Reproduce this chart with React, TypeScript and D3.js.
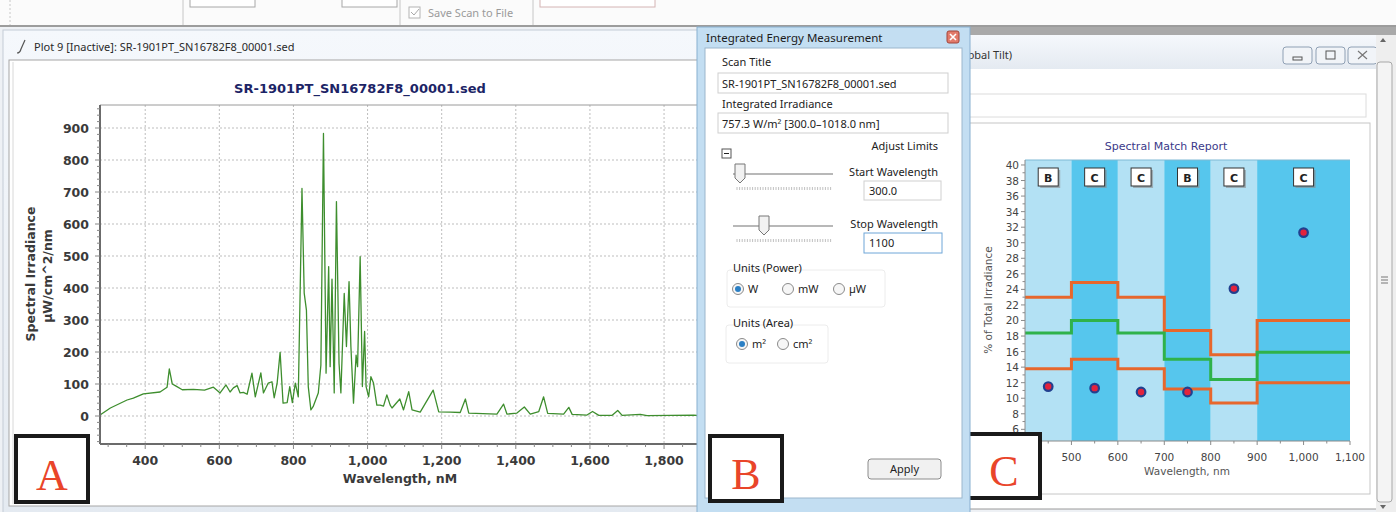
import React from 'react';
import * as d3 from 'd3';

// Panel A: measured spectrum (wavelength nm, µW/cm^2/nm)
const spectrumNm = [
  278, 306, 351, 368, 395, 440, 459, 465, 473, 481, 500, 530, 560, 584, 592, 602, 618, 629, 638, 648,
  656, 665, 675, 688, 697, 712, 719, 732, 742, 748, 756, 764, 772, 783, 790, 797, 805, 813, 823, 829,
  835, 840, 847, 853, 867, 874, 881, 888, 895, 899, 904, 910, 916, 923, 928, 937, 943, 950, 955, 962,
  969, 973, 980, 986, 992, 996, 1003, 1009, 1016, 1025, 1034, 1043, 1052, 1061, 1066, 1087, 1097, 1111, 1120, 1142,
  1177, 1192, 1223, 1250, 1264, 1273, 1349, 1367, 1376, 1403, 1423, 1439, 1462, 1475, 1486, 1529, 1543, 1552, 1592, 1607,
  1624, 1660, 1675, 1687, 1736, 1754, 1880, 1897,
];
const spectrumVal = [
  3, 25, 50, 56, 69, 75, 90, 147, 100, 95, 82, 83, 81, 90, 82, 72, 97, 75, 88, 95,
  72, 74, 68, 134, 60, 135, 72, 103, 107, 57, 103, 199, 40, 42, 92, 42, 103, 60, 711, 384,
  331, 92, 19, 29, 72, 159, 883, 134, 467, 154, 428, 72, 670, 165, 72, 383, 217, 420, 217, 40,
  190, 154, 498, 92, 264, 92, 60, 123, 103, 34, 34, 31, 66, 34, 25, 53, 19, 76, 19, 12,
  81, 13, 12, 11, 53, 9, 6, 37, 6, 9, 28, 6, 14, 60, 8, 6, 27, 5, 3, 14,
  2, 2, 17, 2, 5, 1, 3, 1,
];
const aXTicks = [400, 600, 800, 1000, 1200, 1400, 1600, 1800];
const aYTicks = [0, 100, 200, 300, 400, 500, 600, 700, 800, 900];

// Panel C: spectral match report
const bandEdges = [400, 500, 600, 700, 800, 900, 1100];
const bandClasses = ['B', 'C', 'C', 'B', 'C', 'C'];
const upperLimit = [23, 24.9, 23, 18.7, 15.6, 20];
const idealShare = [18.4, 20, 18.4, 15, 12.4, 15.9];
const lowerLimit = [13.8, 15, 13.8, 11.2, 9.4, 12];
const measuredNm = [450, 550, 650, 750, 850, 1000];
const measuredPct = [11.5, 11.3, 10.8, 10.8, 24.1, 31.3];
const cXTicks = [400, 500, 600, 700, 800, 900, 1000, 1100];
const cYTicks = [6, 8, 10, 12, 14, 16, 18, 20, 22, 24, 26, 28, 30, 32, 34, 36, 38, 40];

const uiFont = '"Noto Sans", "Open Sans", sans-serif';
const chartFont = '"DejaVu Sans", Verdana, sans-serif';
const fmt = d3.format(',');

const SpectrumPlot = () => {
  const left = 100, right = 700, top = 105, bottom = 444;
  const x = d3.scaleLinear().domain([278, 1897]).range([left, right]);
  const y = d3.scaleLinear().domain([0, 900]).range([416, 128]);
  const line = d3.line<number>()
    .x((d, i) => x(spectrumNm[i]))
    .y(d => y(d));
  const minorX = d3.range(300, 1900, 50);
  const minorY = d3.range(-80, 980, 20);

  return (
    <g>
      <defs>
        <clipPath id="clipA">
          <rect x={left} y={top} width={right - left} height={bottom - top} />
        </clipPath>
      </defs>
      <text x={360} y={93} textAnchor="middle" fontFamily={chartFont} fontWeight="bold"
        fontSize={13} fill="#1c2466">SR-1901PT_SN16782F8_00001.sed</text>
      <g clipPath="url(#clipA)">
        {aXTicks.map(t => (
          <line key={t} x1={x(t)} x2={x(t)} y1={top} y2={bottom} stroke="#bdbdbd" strokeDasharray="2,2" />
        ))}
        {aYTicks.map(t => (
          <line key={t} x1={left} x2={right} y1={y(t)} y2={y(t)} stroke="#bdbdbd" strokeDasharray="2,2" />
        ))}
        <path d={line(spectrumVal) ?? ''} fill="none" stroke="#3e8e2e" strokeWidth={1.3} strokeLinejoin="round" />
      </g>
      <line x1={left} x2={right} y1={top} y2={top} stroke="#9a9a9a" />
      <line x1={left} x2={left} y1={top} y2={bottom} stroke="#6b6b6b" strokeWidth={2} />
      <line x1={left} x2={right} y1={bottom} y2={bottom} stroke="#6b6b6b" strokeWidth={2} />
      {minorY.map(t => (
        <line key={t} x1={left - (t % 100 === 0 ? 5 : 3)} x2={left} y1={y(t)} y2={y(t)} stroke="#888" />
      ))}
      {minorX.map(t => (
        <line key={t} x1={x(t)} x2={x(t)} y1={bottom} y2={bottom + (t % 200 === 0 ? 5 : 3)} stroke="#888" />
      ))}
      {aYTicks.map(t => (
        <text key={t} x={89} y={y(t) + 4.5} textAnchor="end" fontFamily={chartFont} fontWeight="bold"
          fontSize={12.5} fill="#3a3a3a">{t}</text>
      ))}
      {aXTicks.map(t => (
        <text key={t} x={x(t)} y={465} textAnchor="middle" fontFamily={chartFont} fontWeight="bold"
          fontSize={12.5} fill="#3a3a3a">{fmt(t)}</text>
      ))}
      <text x={400} y={483} textAnchor="middle" fontFamily={chartFont} fontWeight="bold" fontSize={12.5}
        fill="#3a3a3a">Wavelength, nM</text>
      <text transform="translate(35,274) rotate(-90)" textAnchor="middle" fontFamily={chartFont}
        fontWeight="bold" fontSize={12.5} fill="#3a3a3a">Spectral Irradiance</text>
      <text transform="translate(52,276) rotate(-90)" textAnchor="middle" fontFamily={chartFont}
        fontWeight="bold" fontSize={12.5} fill="#3a3a3a">µW/cm^2/nm</text>
    </g>
  );
};

const Radio = ({ cx, cy, on, label }: { cx: number; cy: number; on?: boolean; label: string }) => (
  <g>
    <circle cx={cx} cy={cy} r={5.5} fill="#f6f6f6" stroke="#8a8a8a" />
    {on && <circle cx={cx} cy={cy} r={3} fill="#2a7fc4" />}
    <text x={cx + 10} y={cy + 4} fontFamily={uiFont} fontSize={11} fill="#222">{label}</text>
  </g>
);

const Slider = ({ y0, thumb }: { y0: number; thumb: number }) => (
  <g>
    <line x1={733} x2={833} y1={y0} y2={y0} stroke="#a0a0a0" strokeWidth={1.5} />
    {d3.range(737, 831, 2.6).map(t => (
      <line key={t} x1={t} x2={t} y1={y0 + 13} y2={y0 + 16} stroke="#b0b0b0" strokeWidth={0.8} />
    ))}
    <path d={`M${thumb - 5},${y0 - 10} h10 v14 l-5,5 l-5,-5 Z`} fill="#f2f2f2" stroke="#777" />
  </g>
);

const EnergyDialog = () => (
  <g fontFamily={uiFont}>
    <rect x={697} y={27} width={273} height={490} fill="#c3def2" stroke="#88afd0" />
    <text x={706} y={42} fontSize={11.5} fill="#1b1b1b">Integrated Energy Measurement</text>
    <rect x={947} y={31} width={12} height={12} rx={2} fill="#e27a6a" stroke="#a2453a" />
    <path d="M950,34 l6,6 M956,34 l-6,6" stroke="#fff" strokeWidth={1.6} />
    <rect x={705} y={48} width={257} height={450} fill="#fff" stroke="#9cb6cc" />

    <text x={722} y={66} fontSize={11} fill="#222">Scan Title</text>
    <rect x={718} y={73} width={230} height={20} fill="#fff" stroke="#cfcfcf" />
    <text x={722} y={88} fontSize={11} fill="#222">SR-1901PT_SN16782F8_00001.sed</text>
    <text x={722} y={108} fontSize={11} fill="#222">Integrated Irradiance</text>
    <rect x={718} y={113} width={230} height={20} fill="#fff" stroke="#cfcfcf" />
    <text x={722} y={128} fontSize={11} fill="#222">757.3 W/m² [300.0–1018.0 nm]</text>

    <text x={938} y={150} textAnchor="end" fontSize={11} fill="#222">Adjust Limits</text>
    <rect x={722} y={149} width={9} height={9} fill="#fff" stroke="#555" />
    <line x1={724} x2={729} y1={153.5} y2={153.5} stroke="#222" />

    <Slider y0={174} thumb={740} />
    <text x={938} y={176} textAnchor="end" fontSize={11} fill="#222">Start Wavelength</text>
    <rect x={864} y={181} width={77} height={19} fill="#fff" stroke="#d0d0d0" />
    <text x={869} y={195} fontSize={11} fill="#222">300.0</text>

    <Slider y0={226} thumb={764} />
    <text x={938} y={228} textAnchor="end" fontSize={11} fill="#222">Stop Wavelength</text>
    <rect x={864} y={233} width={78} height={20} fill="#fff" stroke="#6fa6d8" />
    <text x={869} y={247} fontSize={11} fill="#222">1100</text>

    <rect x={727} y={270} width={158} height={37} rx={3} fill="none" stroke="#ececec" />
    <text x={733} y={272} fontSize={11} fill="#222">Units (Power)</text>
    <Radio cx={738} cy={289} on label="W" />
    <Radio cx={788} cy={289} label="mW" />
    <Radio cx={839} cy={289} label="µW" />

    <rect x={726} y={325} width={102} height={38} rx={3} fill="none" stroke="#ececec" />
    <text x={733} y={327} fontSize={11} fill="#222">Units (Area)</text>
    <Radio cx={742} cy={344} on label="m²" />
    <Radio cx={783} cy={344} label="cm²" />

    <rect x={868} y={459} width={73} height={20} rx={3} fill="#f1f1f1" stroke="#8c8c8c" />
    <text x={904.5} y={473} textAnchor="middle" fontSize={11} fill="#222">Apply</text>
  </g>
);

const MatchReport = () => {
  const left = 1025, right = 1350, top = 160, bottom = 441;
  const x = d3.scaleLinear().domain([400, 1100]).range([left, right]);
  const y = d3.scaleLinear().domain([4.5, 40.64]).range([bottom, top]);
  const stepLine = d3.line<[number, number]>()
    .x(d => x(d[0]))
    .y(d => y(d[1]))
    .curve(d3.curveStepAfter);
  const steps = (vals: number[]) =>
    stepLine(bandEdges.map((e, i) => [e, vals[Math.min(i, vals.length - 1)]] as [number, number])) ?? '';
  const minorY = d3.range(5, 41, 1);
  const minorX = d3.range(450, 1100, 100);

  return (
    <g fontFamily={chartFont}>
      <text x={1166} y={150} textAnchor="middle" fontSize={11} fill="#3b3a8a">Spectral Match Report</text>
      {bandClasses.map((c, i) => (
        <rect key={i} x={x(bandEdges[i])} y={top} width={x(bandEdges[i + 1]) - x(bandEdges[i])}
          height={bottom - top} fill={i % 2 === 0 ? '#b3e1f4' : '#56c6ed'} />
      ))}
      <line x1={left} x2={right} y1={top} y2={top} stroke="#7fb9d4" />
      {bandClasses.map((c, i) => {
        const cx = x((bandEdges[i] + bandEdges[i + 1]) / 2);
        return (
          <g key={i}>
            <rect x={cx - 8} y={170} width={20} height={18} fill="#8a8a8a" opacity={0.6} />
            <rect x={cx - 10} y={168} width={20} height={18} fill="#fff" stroke="#333" />
            <text x={cx} y={182} textAnchor="middle" fontSize={11} fontWeight="bold" fill="#222">{c}</text>
          </g>
        );
      })}
      <path d={steps(upperLimit)} fill="none" stroke="#e7672c" strokeWidth={3} />
      <path d={steps(lowerLimit)} fill="none" stroke="#e7672c" strokeWidth={3} />
      <path d={steps(idealShare)} fill="none" stroke="#2fb24a" strokeWidth={3} />
      {measuredNm.map((n, i) => (
        <circle key={n} cx={x(n)} cy={y(measuredPct[i])} r={4.3} fill="#e2233c" stroke="#22408f" strokeWidth={2.2} />
      ))}
      <line x1={left} x2={left} y1={top} y2={bottom} stroke="#8a8a8a" />
      <line x1={left} x2={right} y1={bottom} y2={bottom} stroke="#8a8a8a" />
      {minorY.map(t => (
        <line key={t} x1={left - (t % 2 === 0 ? 4 : 2.5)} x2={left} y1={y(t)} y2={y(t)} stroke="#8a8a8a" />
      ))}
      {cXTicks.map(t => (
        <line key={t} x1={x(t)} x2={x(t)} y1={bottom} y2={bottom + 4} stroke="#8a8a8a" />
      ))}
      {minorX.map(t => (
        <line key={t} x1={x(t)} x2={x(t)} y1={bottom} y2={bottom + 2.5} stroke="#8a8a8a" />
      ))}
      {cYTicks.map(t => (
        <text key={t} x={1019} y={y(t) + 4} textAnchor="end" fontSize={10.5} fill="#444">{t}</text>
      ))}
      {cXTicks.map(t => (
        <text key={t} x={x(t)} y={461} textAnchor="middle" fontSize={10.5} fill="#444">{fmt(t)}</text>
      ))}
      <text x={1187} y={475} textAnchor="middle" fontSize={10.5} fill="#555">Wavelength, nm</text>
      <text transform="translate(992,300) rotate(-90)" textAnchor="middle" fontSize={10.5} fill="#555">% of Total Irradiance</text>
    </g>
  );
};

const LabelBox = ({ x0, y0, w, h, letter }: { x0: number; y0: number; w: number; h: number; letter: string }) => (
  <g>
    <rect x={x0} y={y0} width={w} height={h} fill="#fff" stroke="#1a1a1a" strokeWidth={4} />
    <text x={x0 + w / 2} y={y0 + h - 12} textAnchor="middle" fontFamily='"Liberation Serif", serif'
      fontSize={44} fill="#e9452a">{letter}</text>
  </g>
);

const WinButton = ({ x0, kind }: { x0: number; kind: string }) => (
  <g>
    <rect x={x0} y={47} width={29} height={17} rx={3} fill="#f1f4f8" stroke="#8fa0b4" />
    {kind === 'min' && <rect x={x0 + 10} y={57} width={9} height={3} fill="none" stroke="#555" />}
    {kind === 'max' && <rect x={x0 + 10} y={51} width={9} height={8} fill="none" stroke="#555" />}
    {kind === 'close' && <path d={`M${x0 + 10},${51} l9,8 M${x0 + 19},${51} l-9,8`} stroke="#777" strokeWidth={1.2} />}
  </g>
);

const App = () => (
  <svg width={1396} height={512} style={{ position: 'absolute', left: 0, top: 0 }}>
    <defs>
      <linearGradient id="titleGrad" x1="0" x2="0" y1="0" y2="1">
        <stop offset="0" stopColor="#f5f8fc" />
        <stop offset="1" stopColor="#e4eaf1" />
      </linearGradient>
    </defs>
    <rect width={1396} height={512} fill="#eef1f5" />

    {/* toolbar strip */}
    <rect x={0} y={0} width={1396} height={26} fill="#fbfbfb" />
    <line x1={10} x2={10} y1={0} y2={25} stroke="#c8c8c8" strokeDasharray="2,2" />
    <line x1={183} x2={183} y1={0} y2={26} stroke="#c6c6c6" />
    <line x1={400} x2={400} y1={0} y2={26} stroke="#c6c6c6" />
    <line x1={533} x2={533} y1={0} y2={26} stroke="#c6c6c6" />
    <rect x={190} y={-4} width={65} height={11} fill="#fff" stroke="#a8a8a8" />
    <rect x={342} y={-4} width={55} height={11} fill="#fff" stroke="#a8a8a8" />
    <rect x={540} y={-4} width={115} height={11} fill="#fff" stroke="#d4b4b4" />
    <rect x={409} y={7} width={11} height={11} fill="#fff" stroke="#b4b4b4" />
    <path d="M411,12 l3,3 l5,-6" fill="none" stroke="#a8a8a8" />
    <text x={428} y={17} fontFamily={uiFont} fontSize={11} fill="#9a9a9a">Save Scan to File</text>
    <rect x={0} y={25} width={1396} height={2} fill="#9c9c9c" />

    {/* window A */}
    <rect x={3} y={30} width={700} height={484} fill="url(#titleGrad)" stroke="#c4ccd6" />
    <path d="M17,53 q3,0 4,-4 l4,-9" fill="none" stroke="#555" strokeWidth={1.2} />
    <text x={34} y={51} fontFamily={uiFont} fontSize={11} fill="#2a2a2a">Plot 9 [Inactive]: SR-1901PT_SN16782F8_00001.sed</text>
    <rect x={9} y={60} width={696} height={446} fill="#fff" stroke="#a6a6a6" />
    <line x1={13} x2={13} y1={62} y2={504} stroke="#d8d8d8" />
    <SpectrumPlot />
    <LabelBox x0={16} y0={436} w={72} h={66} letter="A" />

    {/* window C */}
    <rect x={960} y={27} width={436} height={8} fill="#a9a9a9" />
    <rect x={960} y={35} width={416} height={34} fill="url(#titleGrad)" />
    <text x={1012} y={59} textAnchor="end" fontFamily={uiFont} fontSize={11} fill="#333">Spectral Irradiance (Global Tilt)</text>
    <WinButton x0={1283} kind="min" />
    <WinButton x0={1316} kind="max" />
    <WinButton x0={1348} kind="close" />
    <rect x={960} y={69} width={416} height={440} fill="#fff" />
    <rect x={960} y={94} width={406} height={23} fill="#fff" stroke="#dcdcdc" />
    <rect x={960} y={123} width={410} height={371} fill="#fff" stroke="#c6c6c6" />
    <rect x={1376} y={35} width={20} height={477} fill="#eeeeee" />
    <path d="M1380,42 l3,-4 l3,4 Z" fill="#666" />
    <rect x={1377} y={62} width={15} height={440} rx={3} fill="#f4f4f4" stroke="#a8a8a8" />
    <path d="M1381,277 h7 M1381,280 h7 M1381,283 h7" stroke="#777" />
    <path d="M1380,505 l3,4 l3,-4 Z" fill="#666" />
    <line x1={960} x2={1376} y1={509} y2={509} stroke="#9a9a9a" />
    <MatchReport />
    <LabelBox x0={968} y0={434} w={72} h={64} letter="C" />

    {/* dialog B on top */}
    <EnergyDialog />
    <LabelBox x0={710} y0={436} w={72} h={65} letter="B" />
  </svg>
);

export default App;
